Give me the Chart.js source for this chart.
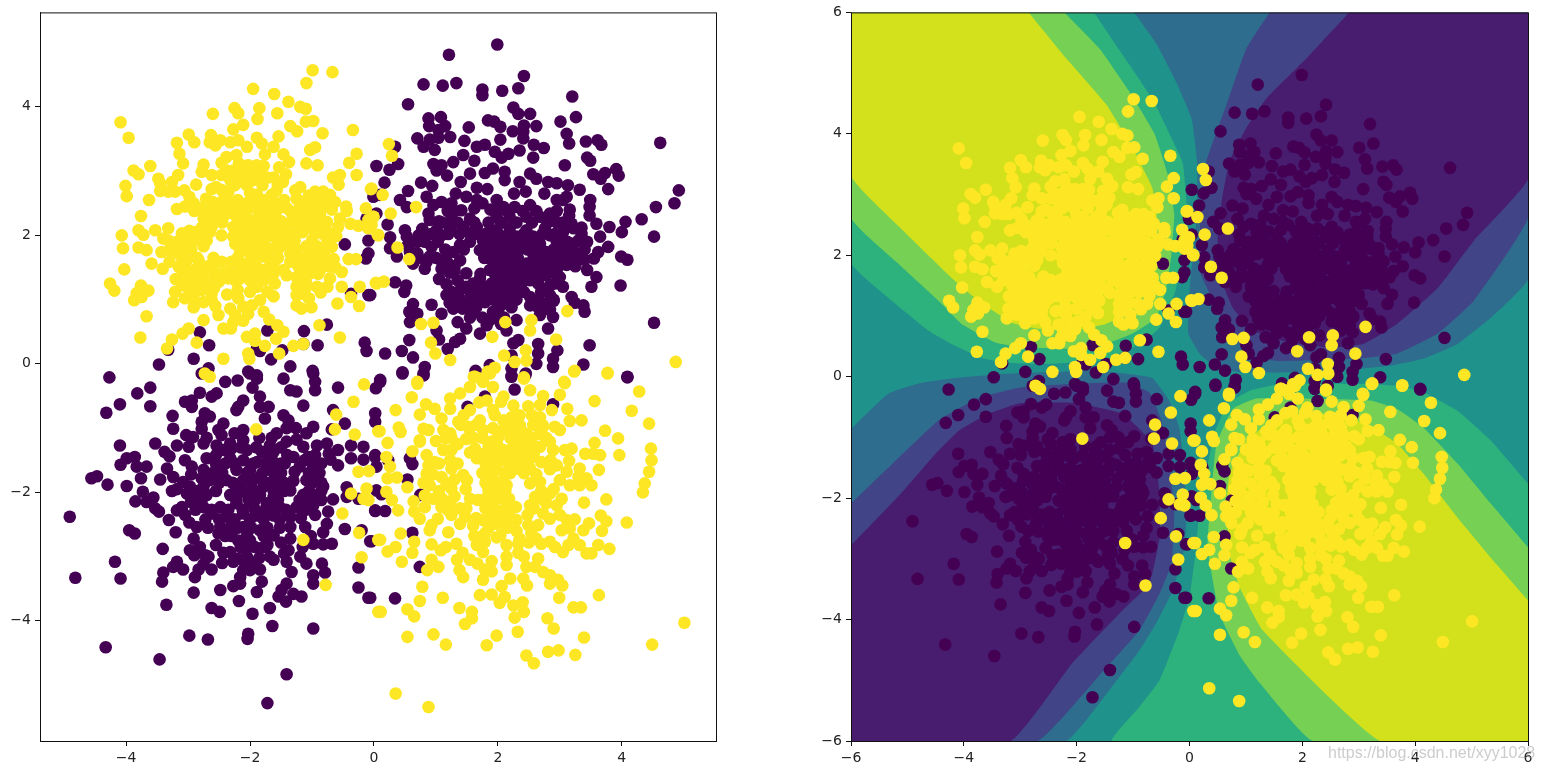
<!DOCTYPE html>
<html>
<head>
<meta charset="utf-8">
<title>xor scatter</title>
<script src="https://cdn.jsdelivr.net/npm/chart.js@4"></script>
<style>
  html, body { margin: 0; padding: 0; background: #fff; overflow: hidden; }
  #izq, #der { position: absolute; top: 0; }
  #izq { left: 0; }
  #der { left: 771px; }
  #marca {
    position: absolute; left: 1328px; top: 744px; white-space: nowrap;
    font: 16px "Liberation Sans", sans-serif; color: rgba(170, 170, 170, 0.6);
  }
</style>
</head>
<body>
<canvas id="izq" width="771" height="774" style="width:771px;height:774px"></canvas>
<canvas id="der" width="771" height="774" style="width:771px;height:774px"></canvas>
<div id="marca">https://blog.csdn.net/xyy1028</div>
<script>
// tick labels
const ticksIzqX = [-4, -2, 0, 2, 4];
const ticksIzqY = [-4, -2, 0, 2, 4];
const ticksDer = [-6, -4, -2, 0, 2, 4, 6];

// clase 0, cuadrante superior derecho
const moradoArriba = [[1.99,4.97],[1.21,4.81],[2.42,4.48],[0.80,4.35],[1.11,4.33],[1.33,4.37],[1.75,4.27],[1.75,4.18],[2.07,4.25],[2.33,4.29],[3.20,4.16],[0.55,4.04],[2.25,3.99],[2.33,3.89],[2.52,3.89],[3.26,3.84],[0.88,3.82],[1.08,3.84],[1.84,3.79],[1.94,3.77],[2.04,3.69],[3.01,3.77],[2.42,3.71],[2.62,3.70],[0.89,3.70],[1.15,3.70],[1.53,3.68],[2.24,3.62],[2.41,3.61],[1.04,3.64],[3.11,3.58],[1.23,3.53],[1.04,3.52],[0.70,3.51],[0.90,3.49],[2.41,3.51],[3.15,3.43],[3.42,3.46],[3.61,3.48],[3.67,3.41],[1.46,3.47],[2.04,3.49],[4.62,3.44],[0.34,3.38],[0.80,3.38],[0.98,3.33],[1.66,3.38],[1.79,3.41],[2.58,3.41],[2.74,3.36],[1.95,3.30],[2.17,3.27],[2.35,3.32],[2.06,3.21],[2.57,3.21],[3.44,3.21],[3.49,3.16],[1.44,3.25],[1.28,3.14],[1.62,3.16],[3.08,3.09],[0.04,3.08],[0.25,3.02],[0.39,3.11],[0.96,3.11],[1.09,3.09],[1.01,3.01],[3.91,3.03],[3.95,2.93],[3.54,2.95],[3.73,2.97],[3.66,2.88],[1.55,2.96],[1.79,2.97],[1.92,3.04],[2.11,2.99],[2.52,2.96],[1.18,2.93],[1.40,2.83],[2.11,2.86],[2.35,2.83],[2.62,2.88],[2.81,2.83],[2.95,2.81],[3.13,2.78],[3.32,2.71],[0.17,2.82],[0.76,2.82],[0.94,2.77],[3.78,2.72],[1.66,2.74],[1.83,2.72],[4.92,2.70],[1.32,2.65],[1.49,2.60],[1.66,2.55],[0.55,2.69],[0.85,2.60],[0.42,2.55],[0.10,2.63],[1.98,2.55],[2.26,2.65],[2.45,2.68],[3.05,2.55],[3.11,2.60],[4.85,2.50],[3.49,2.55],[3.48,2.44],[0.53,2.44],[1.09,2.52],[0.96,2.47],[4.55,2.44],[0.88,2.34],[1.19,2.38],[1.41,2.39],[2.09,2.44],[2.27,2.44],[2.52,2.47],[3.16,2.40],[2.84,2.34],[0.04,2.34],[3.48,2.31],[4.32,2.25],[0.90,2.24],[1.25,2.24],[1.55,2.26],[1.98,2.29],[2.19,2.29],[2.46,2.29],[2.68,2.29],[4.06,2.21],[0.22,2.17],[3.19,2.18],[3.22,2.11],[3.59,2.18],[3.80,2.13],[4.00,2.05],[3.35,2.12],[0.50,2.08],[1.01,2.08],[1.23,2.11],[1.44,2.13],[1.66,2.13],[1.98,2.08],[2.19,2.11],[2.46,2.08],[2.76,2.11],[0.26,1.97],[0.53,1.98],[0.72,2.00],[1.09,2.00],[1.55,2.03],[1.82,2.03],[2.09,1.98],[2.30,1.98],[2.57,1.98],[2.84,2.00],[4.52,1.98],[3.65,1.98],[3.04,1.95],[3.44,1.90],[0.55,1.85],[0.82,1.90],[0.93,1.82],[1.39,1.85],[1.76,1.92],[1.92,1.92],[2.19,1.87],[2.46,1.85],[2.68,1.87],[3.22,1.87],[3.78,1.82],[3.05,1.82],[0.26,1.80],[3.62,1.74],[3.55,1.64],[0.58,1.74],[0.90,1.67],[1.28,1.74],[1.71,1.77],[1.97,1.77],[2.34,1.77],[2.57,1.72],[2.78,1.74],[3.27,1.72],[3.99,1.67],[4.09,1.62],[0.37,1.67],[2.94,1.67],[3.16,1.61],[0.63,1.56],[0.85,1.59],[1.20,1.56],[1.39,1.61],[1.87,1.64],[2.19,1.64],[2.46,1.56],[2.84,1.51],[3.11,1.54],[1.09,1.48],[0.82,1.48],[3.44,1.46],[1.49,1.41],[1.87,1.46],[2.19,1.46],[2.35,1.41],[2.57,1.46],[2.78,1.38],[3.59,1.35],[1.71,1.33],[1.98,1.30],[2.24,1.30],[2.52,1.30],[1.17,1.24],[0.34,1.27],[0.52,1.22],[0.49,1.12],[3.51,1.20],[3.98,1.22],[2.84,1.22],[1.48,1.20],[1.79,1.20],[2.06,1.15],[2.30,1.15],[-0.06,1.07],[1.17,1.07],[1.36,1.12],[1.79,1.07],[2.14,1.04],[2.52,1.04],[2.84,1.07],[3.19,1.04],[0.63,0.93],[0.93,0.92],[1.55,0.96],[1.79,0.96],[2.14,0.94],[2.52,0.91],[2.78,0.94],[3.38,0.91],[3.24,0.95],[0.57,0.81],[0.70,0.78],[1.09,0.78],[1.28,0.86],[1.43,0.86],[1.92,0.81],[2.84,0.84],[3.40,0.81],[0.58,0.65],[1.35,0.65],[1.87,0.68],[2.02,0.76],[2.30,0.68],[2.68,0.76],[2.89,0.73],[4.52,0.64],[1.49,0.55],[1.71,0.47],[1.82,0.60],[2.14,0.52],[2.81,0.55],[1.01,0.52],[1.05,0.38],[1.39,0.39],[1.31,0.34],[0.57,0.37],[2.33,0.37],[2.25,0.32],[2.65,0.31],[2.65,0.16],[3.48,0.29],[1.19,0.23],[0.45,0.20],[0.63,0.10],[0.18,0.16],[2.96,0.21],[2.89,0.08],[2.22,0.13],[2.62,0.00],[1.87,-0.02],[0.46,-0.13],[0.82,-0.05],[0.80,-0.18],[2.89,-0.05],[3.38,-0.01],[4.09,-0.20],[1.64,-0.11],[2.22,-0.07],[2.22,-0.20],[2.45,-0.15],[0.10,-0.25]];

// nucleo denso de la misma nube
const moradoNucleoArriba = [[1.30,2.38],[2.00,2.38],[2.15,2.38],[2.40,2.38],[2.62,2.38],[2.95,2.38],[1.10,2.20],[1.35,2.20],[1.62,2.20],[1.85,2.20],[2.05,2.20],[2.30,2.20],[2.55,2.20],[2.80,2.20],[3.05,2.20],[0.92,2.02],[1.20,2.02],[1.38,2.02],[1.68,2.02],[1.90,2.02],[2.20,2.02],[2.42,2.02],[2.72,2.02],[2.92,2.02],[3.35,2.02],[0.70,1.90],[1.03,1.90],[1.55,1.90],[2.05,1.90],[2.33,1.90],[2.60,1.90],[2.95,1.90],[3.12,1.90],[1.15,1.78],[1.45,1.78],[1.85,1.78],[2.10,1.78],[2.25,1.78],[2.48,1.78],[2.68,1.78],[2.90,1.78],[3.40,1.78],[0.72,1.65],[1.00,1.65],[1.78,1.65],[2.05,1.65],[2.32,1.65],[2.58,1.65],[2.72,1.65],[3.05,1.65],[3.30,1.65],[1.30,1.52],[1.95,1.52],[2.08,1.52],[2.30,1.52],[2.68,1.52],[2.98,1.52],[3.25,1.52],[1.72,1.40],[1.95,1.40],[2.10,1.40],[2.44,1.40],[2.68,1.40],[2.95,1.40],[1.60,1.25],[1.90,1.25],[2.12,1.25],[2.38,1.25],[2.65,1.25],[2.92,1.25],[1.25,1.12],[1.55,1.12],[1.68,1.12],[1.92,1.12],[2.22,1.12],[2.42,1.12],[2.70,1.12],[1.35,1.00],[1.68,1.00],[1.92,1.00],[2.05,1.00],[2.30,1.00],[2.65,1.00],[2.90,1.00],[1.65,0.88],[2.02,0.88],[2.22,0.88],[2.65,0.88],[1.55,0.72],[1.75,0.72],[2.10,0.72],[1.25,2.50],[1.05,2.22],[0.78,2.10],[0.70,1.72],[0.62,1.90],[1.18,1.70],[1.08,1.62],[1.30,1.45],[1.05,1.32],[1.22,1.42],[1.35,1.30],[1.62,2.42],[1.75,2.50],[1.88,2.40],[2.95,2.20],[3.05,2.05],[3.30,1.92],[3.18,1.75],[3.40,1.62],[3.00,1.35],[2.85,1.62],[3.05,1.20],[2.90,0.98],[2.05,0.62],[1.60,0.80],[1.40,1.00],[1.22,0.95],[1.60,1.05],[3.15,2.30],[2.95,2.55],[2.75,2.65]];

// clase 0, puntos sueltos cerca del centro
const moradoCentro = [[-0.01,2.60],[-0.12,2.26],[-0.09,1.92],[-0.47,1.86],[-0.09,1.72],[-0.13,1.64],[-0.37,1.09],[-0.09,1.07],[-0.76,0.61],[-1.13,0.51],[-2.81,0.49],[-2.66,0.29],[-1.72,0.52],[-3.32,0.22],[-0.15,0.33],[-0.12,0.20],[-0.91,0.29],[-1.89,0.24],[-1.84,0.20],[-1.48,0.21],[-1.66,0.07],[-1.14,0.31],[-2.91,0.08],[-3.47,-0.01],[-1.35,-0.04],[-0.99,-0.11],[-2.67,-0.07],[-2.78,-0.15],[-2.03,-0.12],[-1.89,-0.18],[0.10,-0.28],[0.03,-0.38],[0.46,-0.15],[0.80,-0.15],[0.02,-0.77],[0.02,-0.90],[0.02,-1.42],[0.23,-1.50],[0.04,-1.60],[0.58,-1.47],[0.62,-1.56],[0.54,-1.80],[0.04,-1.97],[0.12,-2.03],[0.75,-2.04],[0.02,-2.29],[0.18,-2.29],[0.62,-2.63],[-0.04,-2.76],[0.74,-3.16],[-0.06,-3.64],[0.34,-3.65],[4.09,-0.21],[2.27,-0.40],[2.22,-0.19],[2.44,-0.18],[1.79,-0.51],[1.51,-0.67],[2.89,-0.63]];

// clase 0, cuadrante inferior izquierdo
const moradoAbajo = [[-4.27,-0.21],[-3.82,-0.46],[-3.61,-0.37],[-4.10,-0.63],[-4.32,-0.76],[-3.61,-0.66],[-2.40,-0.28],[-2.20,-0.26],[-2.54,-0.46],[-2.62,-0.51],[-2.81,-0.45],[-2.94,-0.57],[-3.05,-0.59],[-2.94,-0.67],[-2.00,-0.15],[-1.89,-0.23],[-1.96,-0.37],[-1.46,-0.23],[-1.35,-0.41],[-1.25,-0.43],[-0.98,-0.15],[-0.95,-0.28],[-0.95,-0.41],[-0.58,-0.37],[-1.84,-0.51],[-1.84,-0.67],[-1.70,-0.67],[-1.14,-0.65],[-2.11,-0.57],[-2.19,-0.67],[-2.22,-0.72],[-3.25,-0.81],[-3.24,-1.01],[-2.73,-0.77],[-2.65,-0.82],[-2.78,-0.90],[-2.78,-1.01],[-1.76,-0.85],[-1.46,-0.80],[-1.38,-0.88],[-1.26,-1.00],[-2.43,-0.93],[-2.51,-1.03],[-2.11,-1.03],[-0.66,-0.72],[-0.68,-1.02],[-0.47,-0.93],[-0.98,-0.98],[-1.09,-1.08],[-1.41,-1.00],[-3.03,-1.11],[-2.92,-1.14],[-2.75,-1.24],[-3.18,-1.27],[-2.99,-1.29],[-4.10,-1.27],[-3.53,-1.24],[-2.32,-1.24],[-2.11,-1.19],[-1.68,-1.27],[-1.41,-1.21],[-1.57,-1.08],[-2.46,-1.11],[-2.54,-1.27],[-2.43,-1.34],[-2.05,-1.34],[-1.81,-1.37],[-1.62,-1.37],[-1.14,-1.29],[-0.92,-1.27],[-0.76,-1.24],[-3.38,-1.37],[-3.30,-1.44],[-0.58,-1.34],[-0.37,-1.27],[-0.17,-1.29],[-1.06,-1.45],[-0.73,-1.40],[-0.70,-1.49],[-2.70,-1.47],[-2.32,-1.47],[-2.11,-1.50],[-1.89,-1.53],[-1.62,-1.53],[-1.44,-1.55],[-3.86,-1.45],[-3.99,-1.47],[-4.09,-1.57],[-3.83,-1.60],[-3.67,-1.60],[-0.58,-1.58],[-0.37,-1.47],[-0.17,-1.49],[0.02,-1.45],[-2.94,-1.60],[-3.34,-1.63],[-2.75,-1.65],[-2.54,-1.63],[-2.22,-1.65],[-2.00,-1.65],[-1.68,-1.65],[-1.57,-1.65],[-1.28,-1.68],[-0.98,-1.60],[-3.24,-1.76],[-3.76,-1.78],[-3.45,-1.80],[-4.47,-1.75],[-4.56,-1.78],[-3.08,-1.84],[-2.65,-1.81],[-2.38,-1.81],[-2.11,-1.81],[-1.89,-1.78],[-1.62,-1.81],[-1.09,-1.81],[-0.92,-1.76],[-4.30,-1.88],[-3.99,-1.90],[-2.97,-1.91],[-2.75,-1.91],[-2.22,-1.94],[-1.78,-1.91],[-1.57,-1.91],[-1.35,-1.97],[-0.82,-1.91],[-0.44,-1.92],[-3.73,-1.99],[-3.56,-2.08],[-3.85,-2.14],[-3.67,-2.15],[-3.26,-1.98],[-3.02,-2.02],[-2.70,-2.04],[-2.32,-2.04],[-2.05,-2.02],[-1.84,-2.04],[-1.62,-2.07],[-1.14,-2.04],[-0.98,-2.07],[-0.66,-2.11],[-0.25,-2.10],[-0.44,-2.07],[-3.53,-2.25],[-3.47,-2.30],[-3.10,-2.23],[-3.18,-2.28],[-2.75,-2.23],[-2.48,-2.23],[-2.22,-2.17],[-2.00,-2.17],[-1.73,-2.17],[-1.52,-2.23],[-1.25,-2.23],[-0.98,-2.20],[0.02,-2.28],[-4.91,-2.38],[-3.31,-2.43],[-2.98,-2.47],[-2.62,-2.33],[-2.38,-2.38],[-2.11,-2.33],[-1.89,-2.36],[-1.62,-2.36],[-1.35,-2.38],[-0.74,-2.30],[-0.76,-2.49],[-0.82,-2.62],[-2.86,-2.54],[-2.48,-2.54],[-2.11,-2.54],[-1.84,-2.59],[-1.62,-2.67],[-1.35,-2.54],[-1.11,-2.54],[-3.20,-2.62],[-3.95,-2.59],[-3.86,-2.64],[-0.47,-2.57],[-0.20,-2.59],[-2.51,-2.64],[-2.91,-2.72],[-2.19,-2.75],[-2.00,-2.75],[-1.35,-2.72],[-1.38,-2.90],[-0.98,-2.80],[-0.82,-2.81],[-0.68,-2.80],[-0.06,-2.76],[-3.41,-2.88],[-2.97,-2.90],[-2.81,-2.85],[-2.67,-3.00],[-2.83,-2.93],[-2.43,-2.94],[-2.32,-2.93],[-2.05,-3.00],[-1.68,-3.00],[-1.62,-3.05],[-2.19,-3.03],[-2.27,-3.08],[-1.41,-3.08],[-1.19,-3.00],[-4.18,-3.08],[-3.18,-3.08],[-3.24,-3.16],[-3.08,-3.20],[-1.09,-3.11],[-0.84,-3.11],[-0.25,-3.17],[-4.82,-3.33],[-4.09,-3.34],[-2.83,-3.20],[-2.89,-3.32],[-3.40,-3.25],[-3.42,-3.39],[-2.11,-3.21],[-2.16,-3.32],[-1.84,-3.20],[-2.00,-3.21],[-1.33,-3.24],[-0.98,-3.29],[-0.79,-3.25],[-0.98,-3.42],[-1.81,-3.39],[-1.89,-3.55],[-2.16,-3.42],[-2.27,-3.46],[-2.48,-3.52],[-1.41,-3.42],[-1.49,-3.52],[-0.25,-3.48],[-0.09,-3.64],[-2.91,-3.56],[-2.18,-3.69],[-1.30,-3.58],[-1.17,-3.62],[-1.54,-3.62],[-1.42,-3.70],[-3.35,-3.75],[-2.62,-3.80],[-2.49,-3.86],[-1.68,-3.80],[-1.96,-3.89],[-1.64,-4.08],[-0.98,-4.12],[-2.98,-4.23],[-2.68,-4.29],[-2.03,-4.20],[-2.04,-4.28],[-4.33,-4.41],[-3.46,-4.60],[-1.41,-4.83],[-1.72,-5.28]];

// nucleo denso de la misma nube
const moradoNucleoAbajo = [[-2.15,-1.30],[-1.90,-1.30],[-1.50,-1.30],[-2.55,-1.42],[-1.72,-1.42],[-1.40,-1.42],[-0.95,-1.42],[-2.55,-1.55],[-2.25,-1.55],[-1.95,-1.55],[-1.75,-1.55],[-1.50,-1.55],[-0.98,-1.55],[-2.60,-1.70],[-2.45,-1.70],[-2.05,-1.70],[-1.80,-1.70],[-1.50,-1.70],[-1.05,-1.70],[-0.88,-1.70],[-2.50,-1.85],[-2.28,-1.85],[-1.98,-1.85],[-1.75,-1.85],[-1.45,-1.85],[-1.00,-1.85],[-0.85,-1.85],[-2.85,-1.98],[-2.55,-1.98],[-2.12,-1.98],[-1.92,-1.98],[-1.62,-1.98],[-1.45,-1.98],[-1.05,-1.98],[-0.85,-1.98],[-2.78,-2.12],[-2.22,-2.12],[-2.02,-2.12],[-1.92,-2.12],[-1.55,-2.12],[-1.20,-2.12],[-1.05,-2.12],[-0.85,-2.12],[-2.88,-2.27],[-2.62,-2.27],[-2.35,-2.27],[-2.12,-2.27],[-1.92,-2.27],[-1.75,-2.27],[-1.62,-2.27],[-1.42,-2.27],[-1.10,-2.27],[-2.72,-2.42],[-2.50,-2.42],[-2.25,-2.42],[-2.00,-2.42],[-1.78,-2.42],[-1.52,-2.42],[-2.68,-2.55],[-2.32,-2.55],[-2.20,-2.55],[-1.98,-2.55],[-1.72,-2.55],[-1.52,-2.55],[-2.40,-2.68],[-2.30,-2.68],[-2.05,-2.68],[-1.78,-2.68],[-2.15,-2.85],[-2.05,-2.85],[-1.92,-2.85],[-1.78,-2.85],[-1.15,-2.85],[-2.72,-2.98],[-2.90,-2.98],[-2.08,-3.10],[-1.95,-3.10],[-3.05,-1.50],[-2.95,-1.72],[-3.18,-1.95],[-2.95,-2.15],[-3.05,-2.35],[-2.78,-1.78],[-2.88,-2.05],[-2.40,-1.55],[-2.30,-1.32],[-1.30,-1.45],[-1.30,-1.82],[-1.20,-1.60],[-1.12,-1.50],[-0.85,-1.55],[-0.95,-2.35],[-1.18,-2.40],[-1.02,-2.68],[-1.50,-2.78],[-1.72,-2.82],[-2.55,-2.82],[-2.45,-3.10],[-2.62,-3.20],[-2.75,-3.12],[-1.85,-3.02],[-1.45,-2.95],[-1.25,-1.18],[-1.85,-1.15],[-2.25,-1.08],[-2.70,-1.15],[-1.65,-1.15]];

// clase 1, cuadrante superior izquierdo
const amarilloArriba = [[-0.99,4.57],[-0.67,4.54],[-1.09,4.37],[-1.95,4.28],[-1.61,4.20],[-1.38,4.08],[-1.19,4.00],[-1.10,3.97],[-2.25,3.98],[-2.19,3.90],[-1.85,3.98],[-1.56,3.90],[-2.60,3.89],[-1.88,3.81],[-1.10,3.77],[-0.98,3.78],[-2.11,3.72],[-2.27,3.65],[-1.35,3.70],[-1.24,3.62],[-0.83,3.59],[-0.34,3.64],[-4.09,3.76],[-3.96,3.52],[-2.99,3.57],[-2.90,3.45],[-3.18,3.44],[-2.63,3.56],[-1.54,3.54],[-1.89,3.52],[-2.65,3.45],[-2.56,3.40],[-2.48,3.48],[-2.32,3.45],[-2.19,3.48],[-2.05,3.38],[-1.81,3.43],[-1.62,3.38],[-0.95,3.37],[-1.03,3.33],[-3.14,3.27],[-0.28,3.27],[-1.76,3.26],[-1.46,3.26],[-2.22,3.25],[-2.38,3.22],[-3.08,3.12],[-2.46,3.13],[-1.37,3.14],[-0.40,3.13],[-1.09,3.12],[-0.91,3.09],[-2.75,3.10],[-2.03,3.09],[-1.89,3.09],[-1.78,3.08],[-1.53,3.06],[-3.61,3.08],[-3.88,3.01],[-3.80,2.95],[-2.38,3.01],[-2.27,3.01],[-2.78,2.99],[-3.16,2.94],[-2.00,2.96],[-1.84,2.96],[-0.28,2.94],[-0.55,2.94],[-0.66,2.90],[-0.57,2.79],[-2.62,2.94],[-2.46,2.94],[-1.72,2.90],[-3.48,2.88],[-3.45,2.81],[-3.26,2.83],[-2.87,2.79],[-2.11,2.83],[-2.32,2.86],[-1.95,2.86],[-1.47,2.83],[-4.01,2.77],[-3.99,2.61],[-2.46,2.71],[-2.35,2.68],[-3.45,2.69],[-3.32,2.68],[-3.21,2.68],[-3.06,2.70],[-1.57,2.70],[-1.65,2.63],[-1.27,2.70],[-1.19,2.75],[-0.05,2.72],[-0.95,2.68],[-0.82,2.68],[-0.71,2.63],[-2.00,2.66],[-1.89,2.63],[-3.63,2.55],[-2.98,2.60],[-2.91,2.50],[-2.71,2.57],[-2.60,2.52],[-2.43,2.55],[-2.32,2.52],[-1.25,2.57],[-1.17,2.52],[-0.63,2.52],[-2.05,2.50],[-1.78,2.55],[-1.62,2.52],[-1.03,2.50],[-0.87,2.50],[-0.76,2.47],[-0.45,2.45],[-0.44,2.38],[-0.13,2.42],[-3.18,2.41],[-2.90,2.38],[-2.54,2.42],[-2.38,2.42],[-2.05,2.39],[-1.89,2.42],[-1.73,2.39],[-1.54,2.42],[-1.33,2.35],[-1.12,2.37],[-0.98,2.34],[-0.87,2.34],[-3.76,2.30],[-2.75,2.26],[-2.59,2.26],[-2.43,2.29],[-2.22,2.29],[-2.05,2.26],[-1.89,2.26],[-1.73,2.26],[-1.57,2.26],[-0.55,2.26],[-0.01,2.29],[-0.09,2.24],[-1.25,2.18],[-0.76,2.21],[-0.58,2.13],[-0.38,2.18],[-0.25,2.15],[-2.78,2.12],[-2.62,2.13],[-2.27,2.13],[-2.11,2.13],[-1.95,2.13],[-1.78,2.13],[-1.62,2.13],[-1.46,2.08],[-1.03,2.13],[-0.82,2.11],[-0.09,2.11],[-4.07,2.00],[-3.80,2.08],[-3.72,2.01],[-3.53,2.08],[-3.32,2.11],[-3.10,2.03],[-2.98,2.07],[-3.40,1.95],[-3.32,1.92],[-2.75,1.98],[-2.46,2.00],[-2.27,1.98],[-2.05,1.98],[-1.84,1.98],[-1.62,1.98],[-1.41,2.03],[-1.25,2.05],[-0.84,2.03],[-0.61,1.99],[0.07,2.00],[-2.91,1.92],[-2.75,1.83],[-3.06,1.80],[-2.24,1.87],[-2.05,1.85],[-1.89,1.87],[-1.68,1.79],[-1.41,1.85],[-1.09,1.83],[-0.92,1.83],[-0.79,1.77],[-4.05,1.80],[-3.80,1.81],[-3.67,1.77],[-3.43,1.74],[-3.30,1.77],[-3.16,1.72],[-2.16,1.74],[-2.00,1.72],[-1.78,1.67],[-1.35,1.72],[-1.09,1.67],[-0.92,1.67],[-0.65,1.63],[-0.41,1.63],[-0.29,1.63],[-3.59,1.56],[-3.30,1.59],[-3.02,1.61],[-2.83,1.61],[-2.59,1.65],[-2.46,1.59],[-2.30,1.59],[-2.05,1.56],[-1.89,1.51],[-1.68,1.61],[-1.35,1.59],[-1.14,1.56],[-0.98,1.51],[-0.82,1.56],[-4.03,1.47],[-3.41,1.48],[-3.15,1.51],[-2.86,1.48],[-2.35,1.43],[-2.19,1.43],[-2.00,1.41],[-1.78,1.46],[-1.46,1.46],[-1.25,1.35],[-1.03,1.41],[-0.87,1.46],[-0.52,1.43],[-3.09,1.35],[-2.92,1.35],[-2.57,1.38],[-2.35,1.33],[-2.16,1.33],[-2.00,1.30],[-1.78,1.30],[-1.60,1.25],[-1.41,1.38],[-0.71,1.33],[-4.26,1.25],[-4.19,1.14],[-3.76,1.22],[-3.64,1.14],[-3.83,1.10],[-3.75,1.04],[-3.87,0.99],[-0.52,1.20],[-0.23,1.20],[0.03,1.26],[-3.09,1.22],[-2.86,1.25],[-2.70,1.25],[-1.25,1.20],[-1.09,1.20],[-0.92,1.20],[-1.89,1.20],[-3.21,1.12],[-2.97,1.09],[-2.78,1.15],[-2.62,1.09],[-2.37,1.08],[-2.00,1.12],[-0.86,1.11],[-1.25,1.07],[-1.14,1.09],[-3.24,0.96],[-3.05,1.02],[-2.75,0.96],[-2.19,1.02],[-1.84,0.99],[-0.37,1.04],[-1.25,0.91],[-1.01,0.88],[-1.17,0.86],[-0.59,0.94],[-0.24,0.90],[-2.91,0.88],[-2.56,0.90],[-2.32,0.86],[-2.11,0.89],[-1.97,0.91],[-1.78,0.81],[-3.67,0.74],[-2.51,0.76],[-2.24,0.76],[-2.03,0.78],[-1.69,0.69],[-2.75,0.68],[-2.11,0.67],[-2.27,0.65],[-1.56,0.60],[-0.88,0.60],[-2.99,0.55],[-2.43,0.55],[-2.31,0.55],[-1.46,0.50],[-3.77,0.41],[-3.09,0.47],[-3.26,0.38],[-2.05,0.42],[-1.92,0.47],[-1.92,0.36],[-1.58,0.39],[-0.55,0.41],[-3.34,0.24],[-2.86,0.33],[-1.76,0.28],[-1.30,0.28],[-1.14,0.31],[-2.03,0.16],[-2.01,0.08],[-1.53,0.16],[-2.43,0.08],[-2.73,-0.15],[-2.65,-0.20]];

// nucleo denso de la misma nube
const amarilloNucleoArriba = [[-2.22,2.90],[-1.83,2.90],[-2.25,2.78],[-2.05,2.78],[-1.80,2.78],[-1.55,2.78],[-2.20,2.55],[-1.95,2.55],[-1.45,2.55],[-0.95,2.55],[-2.22,2.40],[-1.78,2.40],[-1.62,2.40],[-1.22,2.40],[-0.95,2.40],[-0.68,2.40],[-2.45,2.20],[-2.15,2.20],[-1.98,2.20],[-1.82,2.20],[-1.68,2.20],[-1.35,2.20],[-1.10,2.20],[-0.93,2.20],[-2.90,2.05],[-2.65,2.05],[-2.15,2.05],[-1.95,2.05],[-1.72,2.05],[-1.52,2.05],[-1.15,2.05],[-0.95,2.05],[-0.75,2.05],[-2.70,1.92],[-2.12,1.92],[-1.95,1.92],[-1.78,1.92],[-1.55,1.92],[-1.28,1.92],[-1.00,1.92],[-0.75,1.92],[-3.20,1.78],[-2.95,1.78],[-2.10,1.78],[-1.92,1.78],[-1.75,1.78],[-1.55,1.78],[-1.25,1.78],[-1.02,1.78],[-0.85,1.78],[-3.10,1.65],[-2.85,1.65],[-2.20,1.65],[-1.92,1.65],[-1.55,1.65],[-1.22,1.65],[-1.00,1.65],[-0.78,1.65],[-3.05,1.52],[-2.68,1.52],[-2.15,1.52],[-1.95,1.52],[-1.62,1.52],[-1.22,1.52],[-1.05,1.52],[-0.72,1.52],[-2.75,1.40],[-2.45,1.40],[-2.10,1.40],[-1.88,1.40],[-1.62,1.40],[-1.15,1.40],[-0.90,1.40],[-2.98,1.28],[-2.50,1.28],[-2.22,1.28],[-1.90,1.28],[-1.10,1.28],[-2.88,1.15],[-2.62,1.00],[-2.90,1.00],[-2.55,2.75],[-2.18,3.12],[-2.10,3.00],[-1.62,2.90],[-1.42,2.95],[-3.05,2.45],[-2.80,2.42],[-2.68,2.38],[-3.00,1.92],[-3.18,1.90],[-2.60,1.50],[-2.98,1.45],[-3.20,1.32],[-2.78,1.38],[-2.58,1.18],[-2.20,1.15],[-1.72,1.12],[-1.62,1.05],[-1.05,1.02],[-0.75,1.20],[-0.62,1.50],[-0.68,1.82],[-0.78,2.58],[-1.05,2.62],[-1.40,2.42],[-1.50,2.22],[-1.25,2.30],[-2.62,2.72],[-2.30,2.35]];

// clase 1, puntos sueltos cerca del centro
const amarilloCentro = [[-0.16,-0.32],[-0.33,-0.59],[-0.61,-0.79],[-0.63,-1.02],[-0.31,-1.10],[0.07,-1.05],[-1.90,-1.02],[-0.25,-1.68],[-0.08,-1.67],[-0.12,-1.94],[-0.37,-2.02],[-0.17,-2.10],[-0.09,-2.12],[-0.51,-2.33],[-0.24,-2.63],[-1.14,-2.74],[-0.20,-3.01],[-0.78,-3.44],[0.07,-2.74],[0.07,-3.86],[0.24,3.42],[0.29,3.24],[-0.04,2.73],[0.14,2.63],[0.68,2.44],[0.27,2.34],[-0.01,2.29],[-0.04,2.16],[0.06,2.01],[0.38,1.81],[0.57,1.63],[0.04,1.25],[0.16,1.28],[3.12,0.82],[0.76,0.62],[0.96,0.64],[2.12,0.65],[2.54,0.68],[2.52,0.52],[1.91,0.42],[2.94,0.38],[0.92,0.33],[0.99,0.16],[1.23,0.06],[2.10,0.13],[2.45,0.21],[2.27,0.03],[2.46,0.05],[4.87,0.03],[3.77,-0.14],[3.24,-0.11],[1.95,-0.06],[1.84,-0.12],[1.61,-0.20],[1.71,-0.23],[2.42,-0.23],[0.70,-0.28],[3.07,-0.28]];

// clase 1, cuadrante inferior derecho
const amarilloAbajo = [[1.63,-0.20],[1.87,-0.15],[1.92,-0.36],[0.70,-0.31],[2.42,-0.21],[2.52,-0.41],[3.08,-0.30],[3.23,-0.12],[3.77,-0.15],[4.28,-0.43],[3.00,-0.48],[2.73,-0.50],[0.61,-0.52],[1.55,-0.36],[1.39,-0.46],[1.23,-0.54],[1.76,-0.28],[1.82,-0.57],[2.09,-0.51],[3.56,-0.58],[4.16,-0.73],[4.44,-0.93],[0.35,-0.72],[0.84,-0.63],[0.98,-0.70],[0.74,-0.79],[1.09,-0.85],[1.23,-0.70],[1.36,-0.90],[1.55,-0.72],[1.71,-0.88],[1.92,-0.72],[2.05,-0.59],[2.49,-0.66],[2.68,-0.64],[2.87,-0.72],[3.12,-0.70],[2.09,-0.88],[2.22,-0.83],[2.36,-0.98],[2.57,-0.95],[2.68,-0.83],[2.73,-0.98],[3.16,-0.89],[3.35,-0.88],[2.92,-0.98],[3.00,-1.03],[0.40,-0.99],[0.43,-1.06],[0.09,-1.05],[0.80,-1.01],[0.88,-1.03],[0.74,-1.19],[1.12,-1.03],[1.23,-1.08],[1.16,-1.16],[1.52,-0.98],[1.55,-1.11],[1.76,-1.03],[1.92,-1.00],[2.09,-1.03],[2.25,-1.06],[2.46,-1.09],[2.68,-1.09],[3.73,-1.04],[3.94,-1.16],[3.56,-1.23],[0.22,-1.23],[0.62,-1.36],[0.74,-1.21],[1.49,-1.17],[1.63,-1.32],[1.66,-1.47],[1.90,-1.21],[2.09,-1.34],[2.46,-1.27],[2.68,-1.29],[2.84,-1.21],[2.89,-1.34],[1.12,-1.34],[1.25,-1.34],[1.23,-1.50],[3.08,-1.34],[3.19,-1.32],[3.41,-1.40],[3.54,-1.40],[3.65,-1.42],[4.47,-1.32],[3.96,-1.42],[4.48,-1.50],[4.44,-1.68],[0.85,-1.42],[0.98,-1.53],[0.88,-1.58],[0.20,-1.45],[0.26,-1.60],[1.87,-1.50],[2.09,-1.50],[2.33,-1.45],[2.52,-1.47],[2.70,-1.53],[3.15,-1.51],[3.63,-1.65],[3.32,-1.63],[3.11,-1.68],[1.25,-1.63],[1.82,-1.65],[1.98,-1.65],[2.30,-1.63],[2.52,-1.63],[2.84,-1.64],[0.85,-1.71],[1.09,-1.76],[1.44,-1.73],[1.50,-1.81],[0.22,-1.78],[0.37,-1.77],[0.54,-1.92],[1.90,-1.76],[2.68,-1.84],[3.00,-1.81],[3.16,-1.89],[3.30,-1.76],[3.43,-1.78],[3.51,-1.89],[3.32,-1.89],[4.37,-1.86],[4.34,-2.00],[0.90,-1.89],[1.17,-1.86],[1.25,-1.94],[1.84,-1.91],[2.14,-1.89],[2.52,-1.86],[0.20,-1.99],[0.29,-2.12],[3.75,-2.11],[3.39,-2.16],[0.64,-2.14],[0.96,-2.10],[1.30,-2.06],[1.23,-2.15],[1.09,-2.23],[1.39,-2.25],[1.68,-2.12],[1.82,-2.17],[2.09,-2.07],[2.19,-2.17],[2.60,-2.07],[2.84,-2.02],[3.03,-2.10],[2.95,-2.20],[2.52,-2.20],[2.78,-2.17],[2.29,-2.23],[0.39,-2.28],[0.65,-2.30],[0.82,-2.23],[0.74,-2.41],[1.20,-2.28],[1.03,-2.41],[0.93,-2.51],[1.49,-2.25],[1.47,-2.38],[1.39,-2.49],[1.76,-2.43],[1.92,-2.33],[2.09,-2.28],[2.19,-2.38],[1.98,-2.49],[2.30,-2.43],[2.73,-2.33],[2.84,-2.41],[2.65,-2.51],[3.66,-2.36],[3.75,-2.45],[4.08,-2.47],[3.47,-2.48],[3.11,-2.43],[3.24,-2.42],[3.03,-2.59],[3.16,-2.56],[3.38,-2.59],[3.68,-2.60],[2.49,-2.51],[2.54,-2.64],[1.79,-2.64],[2.04,-2.67],[0.90,-2.59],[0.10,-2.74],[0.43,-2.64],[0.65,-2.77],[2.62,-2.72],[2.70,-2.80],[2.84,-2.77],[3.22,-2.72],[3.14,-2.82],[3.32,-2.82],[2.92,-2.85],[3.05,-2.93],[3.62,-2.82],[3.80,-2.88],[3.43,-2.95],[3.51,-2.95],[0.93,-2.81],[1.08,-2.90],[1.16,-2.85],[1.33,-2.80],[1.43,-2.94],[1.66,-2.82],[1.76,-2.93],[1.79,-2.77],[2.14,-2.82],[2.33,-2.80],[2.14,-3.00],[2.33,-2.94],[0.22,-2.92],[0.35,-2.85],[0.45,-3.08],[0.62,-2.94],[0.93,-3.05],[1.04,-3.16],[0.86,-3.21],[1.34,-3.05],[1.38,-3.21],[1.44,-3.32],[1.67,-3.11],[1.90,-3.07],[1.79,-3.20],[1.90,-3.23],[1.76,-3.36],[2.14,-3.13],[2.65,-3.03],[2.46,-3.16],[2.60,-3.16],[2.73,-3.24],[2.84,-3.29],[2.20,-3.34],[2.41,-3.34],[2.47,-3.45],[2.84,-3.42],[2.97,-3.36],[3.04,-3.45],[0.78,-3.47],[2.06,-3.46],[1.71,-3.60],[1.90,-3.59],[2.11,-3.63],[2.03,-3.72],[1.11,-3.64],[0.74,-3.69],[2.99,-3.64],[3.63,-3.60],[2.25,-3.76],[2.40,-3.71],[2.42,-3.86],[2.27,-3.95],[3.22,-3.79],[3.34,-3.79],[0.11,-3.86],[0.54,-3.82],[0.65,-3.93],[1.38,-3.80],[1.58,-3.86],[1.58,-3.96],[1.47,-4.05],[2.80,-3.96],[2.90,-4.12],[2.32,-4.17],[3.39,-4.26],[5.01,-4.03],[0.54,-4.25],[0.96,-4.21],[1.16,-4.37],[1.98,-4.23],[1.82,-4.38],[4.49,-4.37],[2.81,-4.48],[2.98,-4.46],[3.25,-4.53],[2.46,-4.54],[2.58,-4.66],[0.35,-5.13],[0.88,-5.34]];

// nucleo denso de la misma nube
const amarilloNucleoAbajo = [[1.45,-0.80],[1.95,-0.80],[2.35,-0.80],[2.55,-0.80],[1.40,-0.95],[1.65,-0.95],[2.20,-0.95],[2.35,-0.95],[2.72,-0.95],[1.60,-1.15],[1.75,-1.15],[2.00,-1.15],[2.20,-1.15],[2.35,-1.15],[2.55,-1.15],[1.85,-1.28],[2.00,-1.28],[2.25,-1.28],[2.38,-1.28],[2.55,-1.28],[1.78,-1.40],[1.95,-1.40],[2.22,-1.40],[2.40,-1.40],[2.58,-1.40],[1.80,-1.55],[1.98,-1.55],[2.18,-1.55],[2.35,-1.55],[2.48,-1.55],[1.75,-1.70],[1.90,-1.70],[2.10,-1.70],[2.20,-1.70],[2.42,-1.70],[1.80,-1.85],[2.00,-1.85],[2.10,-1.85],[1.85,-1.98],[1.98,-1.98],[2.12,-1.98],[2.70,-1.98],[1.80,-2.10],[1.95,-2.10],[2.08,-2.10],[2.18,-2.10],[2.70,-2.10],[1.80,-2.25],[1.95,-2.25],[2.15,-2.25],[2.58,-2.25],[1.65,-2.40],[1.88,-2.40],[2.08,-2.40],[2.18,-2.40],[2.15,-2.55],[1.85,-2.55],[1.25,-1.15],[1.00,-1.20],[1.05,-1.55],[1.35,-1.25],[0.95,-1.72],[1.35,-1.55],[1.55,-1.38],[1.30,-1.80],[1.05,-1.98],[0.80,-1.85],[1.48,-1.95],[1.55,-2.10],[0.82,-2.05],[1.10,-2.10],[1.25,-2.35],[1.60,-2.52],[1.62,-2.68],[1.20,-2.62],[1.98,-2.70],[2.30,-2.60],[2.48,-2.35],[2.62,-1.72],[2.85,-1.50],[2.95,-1.58],[2.78,-1.15],[2.50,-2.78],[2.42,-3.00],[1.70,-0.60],[2.25,-0.65],[2.90,-1.95],[3.00,-2.35],[2.35,-2.72],[1.55,-3.05]];

// curvas de nivel de la frontera de decision, en unidades de los ejes
const fondo = [[-6,-6],[6,-6],[6,6],[-6,6]];
const alto4Izq = [[-1.69,6],[-1.25,5.39],[-0.89,4.90],[-0.62,4.51],[-0.36,4.01],[-0.12,3.52],[-0.05,2.81],[-0.11,2.07],[-0.25,1.41],[-0.53,0.81],[-0.84,0.56],[-1.25,0.38],[-1.60,0.26],[-2.67,0.21],[-3.26,0.23],[-3.68,0.31],[-4.22,0.54],[-4.63,0.76],[-5.34,1.30],[-6,1.88],[-6,6]];
const alto5Izq = [[-2.22,6],[-1.60,5.41],[-1.07,4.70],[-0.62,4.00],[-0.39,3.34],[-0.27,2.68],[-0.32,2.02],[-0.41,1.46],[-0.59,0.97],[-1.01,0.71],[-1.48,0.54],[-2.08,0.46],[-2.90,0.48],[-3.43,0.56],[-4.04,0.87],[-4.45,1.25],[-5.16,1.86],[-6,2.62],[-6,6]];
const alto6Izq = [[-2.85,6],[-2.19,5.25],[-1.48,4.49],[-1.01,3.77],[-0.66,3.11],[-0.57,2.57],[-0.59,1.96],[-0.71,1.46],[-1.01,1.09],[-1.48,0.87],[-2.08,0.76],[-2.67,0.79],[-3.15,0.89],[-3.74,1.25],[-4.22,1.63],[-5.16,2.48],[-6,3.31],[-6,6]];
const alto4Der = [[6,-1.76],[5.34,-1.05],[4.75,-0.56],[4.15,-0.26],[3.68,-0.15],[3.08,-0.12],[1.60,-0.12],[1.07,-0.23],[0.68,-0.44],[0.46,-0.89],[0.32,-1.46],[0.18,-2.12],[0.12,-2.81],[0,-3.63],[-0.18,-4.18],[-0.53,-5.00],[-0.89,-5.44],[-1.37,-6],[6,-6]];
const alto5Der = [[6,-2.81],[5.34,-2.09],[4.75,-1.43],[4.15,-0.84],[3.68,-0.53],[3.20,-0.39],[1.19,-0.36],[0.77,-0.53],[0.48,-1.10],[0.39,-1.88],[0.32,-2.81],[0.53,-3.90],[0.89,-4.59],[1.25,-5.05],[2.19,-6],[6,-6]];
const alto6Der = [[6,-3.68],[5.34,-2.98],[4.75,-2.32],[4.15,-1.60],[3.68,-1.10],[3.33,-0.89],[2.85,-0.67],[2.08,-0.59],[1.48,-0.72],[1.01,-1.05],[0.71,-1.60],[0.66,-2.09],[0.71,-2.91],[0.89,-3.47],[1.30,-4.18],[3.38,-6],[6,-6]];
const bajo2Der = [[-0.98,6],[-0.59,5.49],[-0.23,4.84],[0.04,4.24],[0.14,3.47],[0.12,2.57],[0,1.41],[-0.02,0.71],[0.18,0.38],[0.48,0.15],[0.94,0.07],[2.37,0.08],[3.56,0.18],[4.15,0.30],[4.75,0.54],[5.34,0.97],[6,1.61],[6,6]];
const bajo1Der = [[1.42,6],[1.01,5.41],[0.66,4.49],[0.30,3.55],[0.21,2.89],[0.18,2.24],[0.18,1.74],[0.48,1.13],[0.77,0.64],[1.19,0.31],[1.60,0.26],[2.97,0.30],[3.68,0.38],[4.40,0.71],[5.04,1.25],[6,2.62],[6,6]];
const bajo0Der = [[2.83,6],[2.08,5.25],[1.37,4.59],[1.01,4.10],[0.71,3.55],[0.57,2.89],[0.50,2.29],[0.53,1.69],[0.77,1.13],[1.12,0.76],[1.65,0.59],[2.49,0.48],[3.08,0.54],[3.68,0.87],[4.40,1.46],[5.04,2.24],[6,3.26],[6,6]];
const bajo2Izq = [[-6,-0.86],[-5.34,-0.28],[-4.75,-0.10],[-4.15,-0.02],[-3.26,0.05],[-1.60,0.10],[-1.12,0.05],[-0.66,-0.02],[-0.36,-0.39],[-0.18,-0.84],[-0.09,-1.55],[-0.05,-2.25],[-0.09,-2.81],[-0.30,-3.52],[-0.59,-4.06],[-0.89,-4.51],[-1.42,-5.16],[-2.19,-6],[-6,-6]];
const bajo1Izq = [[-6,-2.09],[-5.34,-1.50],[-4.45,-0.72],[-3.74,-0.35],[-3.02,-0.18],[-2.08,-0.12],[-1.12,-0.10],[-0.71,-0.26],[-0.50,-0.72],[-0.36,-1.38],[-0.27,-2.25],[-0.32,-3.08],[-0.53,-3.57],[-0.89,-4.18],[-1.60,-4.92],[-2.70,-6],[-6,-6]];
const bajo0Izq = [[-6,-2.78],[-5.11,-1.92],[-4.50,-1.27],[-4.09,-0.89],[-3.56,-0.61],[-3.02,-0.44],[-2.08,-0.43],[-1.19,-0.61],[-0.66,-1.10],[-0.53,-1.92],[-0.53,-2.65],[-0.71,-3.40],[-1.19,-3.85],[-2.08,-4.72],[-3.17,-6],[-6,-6]];

const MORADO = "#440154";
const AMARILLO = "#fde725";
const niveles = [
  [fondo, "#20928c", 0],
  [alto4Izq, "#2db27d", 0.12], [alto4Der, "#2db27d", 0.12],
  [alto5Izq, "#75d054", 0.12], [alto5Der, "#75d054", 0.12],
  [alto6Izq, "#d2e11b", 0.12], [alto6Der, "#d2e11b", 0.12],
  [bajo2Der, "#2e6d8e", 0.12], [bajo2Izq, "#2e6d8e", 0.12],
  [bajo1Der, "#414487", 0.12], [bajo1Izq, "#414487", 0.12],
  [bajo0Der, "#481c6e", 0.12], [bajo0Izq, "#481c6e", 0.12],
];

const aXY = (lista) => lista.map((p) => ({ x: p[0], y: p[1] }));

function puntos() {
  const amarillos = amarilloArriba.concat(amarilloNucleoArriba, amarilloCentro, amarilloAbajo, amarilloNucleoAbajo);
  const morados = moradoArriba.concat(moradoNucleoArriba, moradoCentro, moradoAbajo, moradoNucleoAbajo);
  return [
    { data: aXY(amarillos), backgroundColor: AMARILLO, order: 0 },
    { data: aXY(morados), backgroundColor: MORADO, order: 1 },
  ].map((d) => Object.assign(d, { pointRadius: 6.3, pointBorderWidth: 0, showLine: false }));
}

const marco = {
  id: "marco",
  afterDraw(chart) {
    const { ctx, chartArea: a } = chart;
    ctx.save();
    ctx.strokeStyle = "#111";
    ctx.lineWidth = 1;
    ctx.strokeRect(a.left + 0.5, a.top + 0.5, a.right - a.left, a.bottom - a.top);
    ctx.restore();
  },
};

function eje(min, max, marcas, ancho, esY) {
  return {
    type: "linear",
    min,
    max,
    grid: { drawOnChartArea: false, drawTicks: true, tickLength: 5, color: "#111" },
    border: { color: "#111" },
    afterBuildTicks: (s) => { s.ticks = marcas.map((v) => ({ value: v })); },
    afterFit: (s) => { if (esY) s.width = ancho; else s.height = ancho; },
    ticks: {
      color: "#222",
      maxRotation: 0,
      autoSkip: false,
      padding: 4,
      font: { family: "DejaVu Sans", size: 14 },
      callback: (v) => String(v).replace("-", "\u2212"),
    },
  };
}

function grafico(id, datasets, ejeX, ejeY, padding) {
  return new Chart(document.getElementById(id), {
    type: "scatter",
    data: { datasets },
    options: {
      responsive: false,
      animation: false,
      events: [],
      layout: { padding },
      plugins: { legend: { display: false }, tooltip: { enabled: false } },
      scales: { x: ejeX, y: ejeY },
    },
    plugins: [marco],
  });
}

grafico("izq", puntos(),
  eje(-5.39, 5.52, ticksIzqX, 33, false),
  eje(-5.87, 5.47, ticksIzqY, 40, true),
  { top: 12, right: 55, left: 0, bottom: 0 });

const capas = niveles.map((n, i) => ({
  data: aXY(n[0]),
  showLine: true,
  fill: "shape",
  tension: n[2],
  borderWidth: 0,
  pointRadius: 0,
  backgroundColor: n[1],
  borderColor: n[1],
  order: 100 - i,
}));

grafico("der", capas.concat(puntos()),
  eje(-6, 6, ticksDer, 33, false),
  eje(-6, 6, ticksDer, 80, true),
  { top: 12, right: 14, left: 0, bottom: 0 });
</script>
</body>
</html>
